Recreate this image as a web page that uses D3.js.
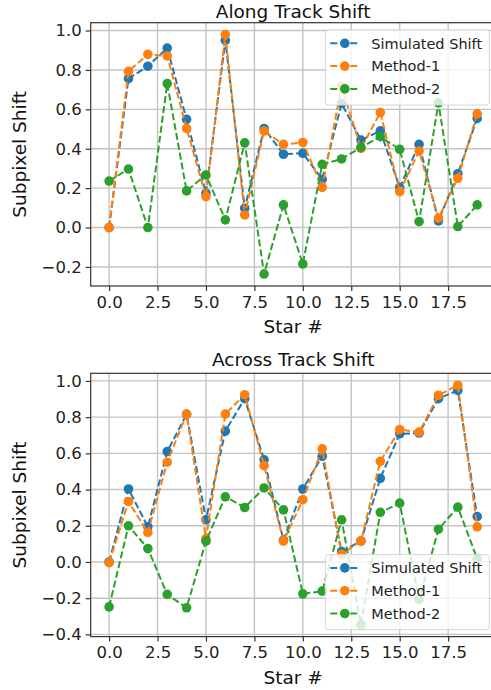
<!DOCTYPE html>
<html>
<head>
<meta charset="utf-8">
<script src="https://cdn.jsdelivr.net/npm/d3@7"></script>
<style>
  body { margin: 0; background: #fff; }
  svg { display: block; font-family: "DejaVu Sans", sans-serif; }
</style>
</head>
<body>
<div id="chart"></div>
<script>
// Star index on the x axis
var stars = [0, 1, 2, 3, 4, 5, 6, 7, 8, 9, 10, 11, 12, 13, 14, 15, 16, 17, 18, 19];

// Along track shifts
var alongSimulated = [0.0, 0.756, 0.819, 0.911, 0.549, 0.174, 0.950, 0.098, 0.503, 0.372,
    0.377, 0.245, 0.630, 0.444, 0.491, 0.203, 0.422, 0.034, 0.273, 0.554];
var alongMethod1 = [0.0, 0.793, 0.879, 0.871, 0.503, 0.157, 0.979, 0.064, 0.490, 0.422,
    0.432, 0.204, 0.717, 0.402, 0.584, 0.182, 0.388, 0.048, 0.250, 0.577];
var alongMethod2 = [0.236, 0.297, 0.0, 0.731, 0.186, 0.267, 0.039, 0.430, -0.236, 0.115,
    -0.185, 0.321, 0.348, 0.407, 0.461, 0.397, 0.030, 0.633, 0.005, 0.115];

// Across track shifts
var acrossSimulated = [0.0, 0.403, 0.194, 0.610, 0.815, 0.233, 0.723, 0.902, 0.564, 0.120,
    0.403, 0.584, 0.057, 0.116, 0.462, 0.708, 0.712, 0.902, 0.948, 0.251];
var acrossMethod1 = [-0.004, 0.334, 0.163, 0.551, 0.817, 0.129, 0.817, 0.924, 0.532, 0.115,
    0.344, 0.625, 0.043, 0.116, 0.556, 0.732, 0.717, 0.921, 0.976, 0.194];
var acrossMethod2 = [-0.248, 0.200, 0.074, -0.179, -0.253, 0.115, 0.360, 0.301, 0.409, 0.288,
    -0.176, -0.161, 0.233, -0.346, 0.274, 0.325, -0.207, 0.181, 0.303, 0.018];

// Legend labels and tick values
var seriesNames = ["Simulated Shift", "Method-1", "Method-2"];
var seriesColors = ["#1f77b4", "#ff7f0e", "#2ca02c"];
var xTicks = [0, 2.5, 5, 7.5, 10, 12.5, 15, 17.5];
var alongYTicks = [-0.2, 0, 0.2, 0.4, 0.6, 0.8, 1.0];
var acrossYTicks = [-0.4, -0.2, 0, 0.2, 0.4, 0.6, 0.8, 1.0];

var width = 491, height = 690;
var svg = d3.select("#chart").append("svg")
    .attr("width", width)
    .attr("height", height);

// Draw one subplot
var drawPanel = function(opts) {
    var left = 90.7, right = 495.6;
    var top = opts.top, bottom = opts.top + 263.3;

    // matplotlib-like 5% margins
    var allValues = d3.merge(opts.series);
    var yMin = d3.min(allValues), yMax = d3.max(allValues);
    var yPad = (yMax - yMin) * 0.05;
    var xPad = (d3.max(stars) - d3.min(stars)) * 0.05;

    var x = d3.scaleLinear()
        .domain([d3.min(stars) - xPad, d3.max(stars) + xPad])
        .range([left, right]);
    var y = d3.scaleLinear()
        .domain([yMin - yPad, yMax + yPad])
        .range([bottom, top]);

    var g = svg.append("g");

    // Grid
    g.append("g").selectAll("line.gx")
        .data(xTicks)
        .enter().append("line")
        .attr("x1", function(d) { return x(d); })
        .attr("x2", function(d) { return x(d); })
        .attr("y1", top).attr("y2", bottom)
        .attr("stroke", "#c4c4c4")
        .attr("stroke-width", 1.4);
    g.append("g").selectAll("line.gy")
        .data(opts.yTicks)
        .enter().append("line")
        .attr("x1", left).attr("x2", right)
        .attr("y1", function(d) { return y(d); })
        .attr("y2", function(d) { return y(d); })
        .attr("stroke", "#c4c4c4")
        .attr("stroke-width", 1.4);

    // Axes
    var xAxis = g.append("g")
        .attr("transform", "translate(0," + bottom + ")")
        .call(d3.axisBottom(x).tickValues(xTicks).tickFormat(d3.format(".1f")).tickSizeInner(5).tickSizeOuter(0).tickPadding(5));
    var yAxis = g.append("g")
        .attr("transform", "translate(" + left + ",0)")
        .call(d3.axisLeft(y).tickValues(opts.yTicks).tickFormat(d3.format(".1f")).tickSizeInner(5).tickSizeOuter(0).tickPadding(4));
    [xAxis, yAxis].forEach(function(a) {
        a.select(".domain").remove();
        a.selectAll(".tick line").attr("stroke", "#333").attr("stroke-width", 1.2);
        a.selectAll(".tick text")
            .attr("fill", "#222")
            .style("font-size", "16.5px")
            .style("font-family", "DejaVu Sans");
    });

    // Spines
    g.append("rect")
        .attr("x", left).attr("y", top)
        .attr("width", right - left).attr("height", bottom - top)
        .attr("fill", "none")
        .attr("stroke", "#333")
        .attr("stroke-width", 1.2);

    // Lines with markers
    var line = d3.line()
        .x(function(d, i) { return x(stars[i]); })
        .y(function(d) { return y(d); });
    opts.series.forEach(function(values, s) {
        g.append("path")
            .attr("d", line(values))
            .attr("fill", "none")
            .attr("stroke", seriesColors[s])
            .attr("stroke-width", 2)
            .attr("stroke-dasharray", "7,3");
        g.append("g").selectAll("circle")
            .data(values)
            .enter().append("circle")
            .attr("cx", function(d, i) { return x(stars[i]); })
            .attr("cy", function(d) { return y(d); })
            .attr("r", 4.8)
            .attr("fill", seriesColors[s]);
    });

    // Title and labels
    var midX = (left + right) / 2;
    g.append("text")
        .attr("x", midX).attr("y", Math.max(top - 7, 17.6))
        .attr("text-anchor", "middle")
        .attr("fill", "#111")
        .style("font-size", "18.5px")
        .text(opts.title);
    g.append("text")
        .attr("x", midX).attr("y", bottom + 47)
        .attr("text-anchor", "middle")
        .attr("fill", "#111")
        .style("font-size", "18.5px")
        .text("Star #");
    g.append("text")
        .attr("transform", "translate(26," + ((top + bottom) / 2) + ") rotate(-90)")
        .attr("text-anchor", "middle")
        .attr("fill", "#111")
        .style("font-size", "18.5px")
        .text("Subpixel Shift");

    // Legend
    var legW = 164, legH = 75;
    var legX = right - 6.3 - legW;
    var legY = opts.legendAtTop ? top + 7.3 : bottom - 7 - legH;
    var leg = g.append("g").attr("transform", "translate(" + legX + "," + legY + ")");
    leg.append("rect")
        .attr("width", legW).attr("height", legH)
        .attr("rx", 3).attr("ry", 3)
        .attr("fill", "#fff").attr("fill-opacity", 0.8)
        .attr("stroke", "#d6d6d6").attr("stroke-width", 1);
    seriesNames.forEach(function(name, s) {
        var rowY = 13.3 + s * 22.8;
        leg.append("line")
            .attr("x1", 5).attr("x2", 34)
            .attr("y1", rowY).attr("y2", rowY)
            .attr("stroke", seriesColors[s])
            .attr("stroke-width", 2)
            .attr("stroke-dasharray", "7,3");
        leg.append("circle")
            .attr("cx", 19.5).attr("cy", rowY)
            .attr("r", 4.8)
            .attr("fill", seriesColors[s]);
        leg.append("text")
            .attr("x", 46).attr("y", rowY)
            .attr("dy", "0.36em")
            .attr("fill", "#222")
            .style("font-size", "14.5px")
            .text(name);
    });
};

drawPanel({
    title: "Along Track Shift",
    top: 22.7,
    series: [alongSimulated, alongMethod1, alongMethod2],
    yTicks: alongYTicks,
    legendAtTop: true
});
drawPanel({
    title: "Across Track Shift",
    top: 373.3,
    series: [acrossSimulated, acrossMethod1, acrossMethod2],
    yTicks: acrossYTicks,
    legendAtTop: false
});
</script>
</body>
</html>
